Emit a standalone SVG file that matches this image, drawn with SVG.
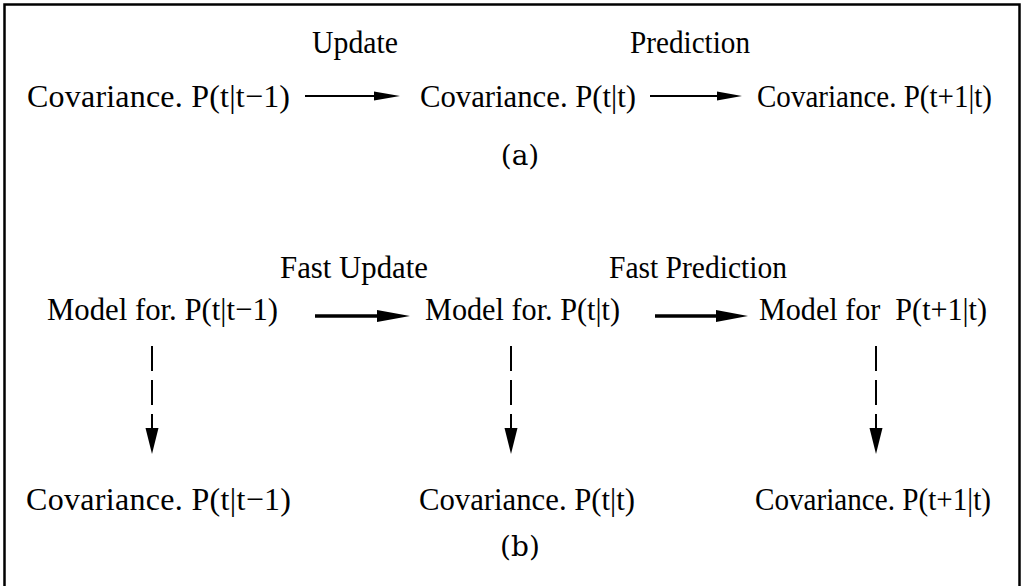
<svg xmlns="http://www.w3.org/2000/svg" width="1024" height="586" viewBox="0 0 1024 586">
<style>
text{font-family:"Liberation Serif","Times New Roman",serif;font-size:32px;fill:#000}
.cap{font-family:"DejaVu Serif","Liberation Serif",serif;font-size:28px}
.thin{stroke:#000;stroke-width:1.8;fill:none}
.thick{stroke:#000;stroke-width:3.5;fill:none}
.dash{stroke:#000;stroke-width:2;fill:none;stroke-dasharray:25 9}
</style>
<rect x="4.5" y="4.5" width="1015" height="620" fill="#fff" stroke="#000" stroke-width="2.5"/>
<g id="connectors">
<line class="thin" x1="305" y1="96" x2="376" y2="96"/>
<polygon points="374,91.5 400,96 374,100.5"/>
<line class="thin" x1="650" y1="96" x2="719" y2="96"/>
<polygon points="717,91.5 742,96 717,100.5"/>
<line class="thick" x1="315" y1="316" x2="380" y2="316"/>
<polygon points="377,310 410,316 377,322"/>
<line class="thick" x1="655" y1="316" x2="720" y2="316"/>
<polygon points="716,310 748,316 716,322"/>
<line class="dash" x1="152" y1="346" x2="152" y2="430"/>
<polygon points="145.5,428 158.5,428 152,454"/>
<line class="dash" x1="511" y1="346" x2="511" y2="430"/>
<polygon points="504.5,428 517.5,428 511,454"/>
<line class="dash" x1="876" y1="346" x2="876" y2="430"/>
<polygon points="869.5,428 882.5,428 876,454"/>
</g>
<g id="label-update"><text x="312" y="53" textLength="86" lengthAdjust="spacingAndGlyphs">Update</text></g>
<g id="label-prediction"><text x="630" y="53" textLength="120" lengthAdjust="spacingAndGlyphs">Prediction</text></g>
<g id="a-cov1"><text x="27" y="107" textLength="263" lengthAdjust="spacing">Covariance. P(t|t−1)</text></g>
<g id="a-cov2"><text x="420" y="107" textLength="216" lengthAdjust="spacingAndGlyphs">Covariance. P(t|t)</text></g>
<g id="a-cov3"><text x="757" y="107" textLength="235" lengthAdjust="spacingAndGlyphs">Covariance. P(t+1|t)</text></g>
<g id="caption-a"><text class="cap" x="520" y="165" text-anchor="middle">(a)</text></g>
<g id="label-fast-update"><text x="280" y="278" textLength="148" lengthAdjust="spacingAndGlyphs">Fast Update</text></g>
<g id="label-fast-prediction"><text x="609" y="278" textLength="178" lengthAdjust="spacingAndGlyphs">Fast Prediction</text></g>
<g id="b-model1"><text x="47" y="320" textLength="231" lengthAdjust="spacingAndGlyphs">Model for. P(t|t−1)</text></g>
<g id="b-model2"><text x="425" y="320" textLength="195" lengthAdjust="spacingAndGlyphs">Model for. P(t|t)</text></g>
<g id="b-model3"><text x="759" y="320" textLength="228" lengthAdjust="spacingAndGlyphs" xml:space="preserve">Model for  P(t+1|t)</text></g>
<g id="b-cov1"><text x="26" y="510" textLength="265" lengthAdjust="spacing">Covariance. P(t|t−1)</text></g>
<g id="b-cov2"><text x="419" y="510" textLength="216" lengthAdjust="spacingAndGlyphs">Covariance. P(t|t)</text></g>
<g id="b-cov3"><text x="755" y="510" textLength="236" lengthAdjust="spacingAndGlyphs">Covariance. P(t+1|t)</text></g>
<g id="caption-b"><text class="cap" x="520" y="556" text-anchor="middle">(b)</text></g>
</svg>
